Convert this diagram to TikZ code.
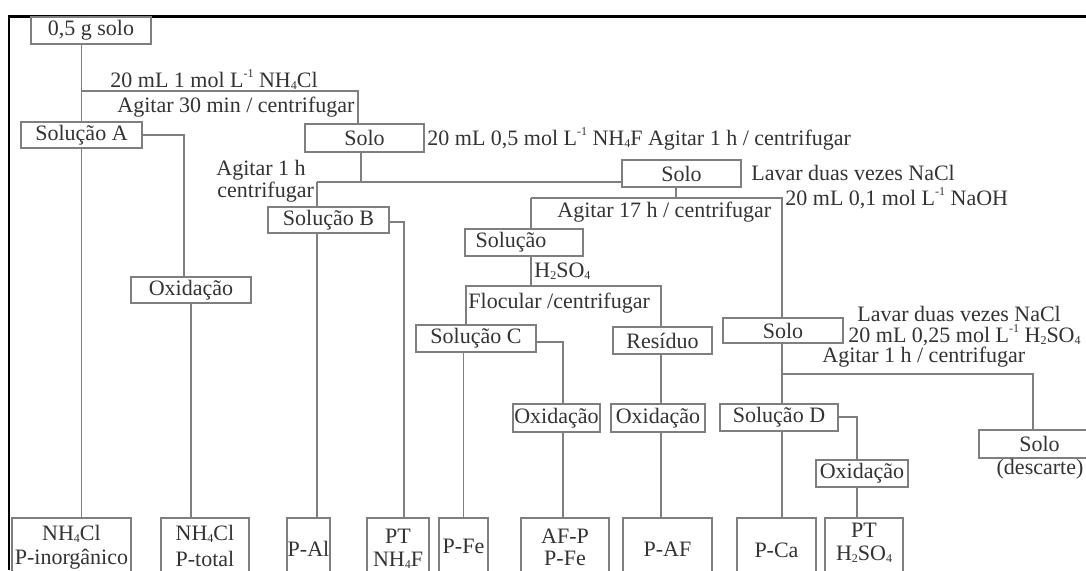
\documentclass[tikz,border=0pt]{standalone}
\usepackage{fontspec}
\setmainfont{Liberation Serif}
\definecolor{lc}{HTML}{7F7F7F}
\definecolor{tc}{HTML}{333333}
\newcommand{\mysub}[1]{\raisebox{-0.2ex}{\fontsize{6}{6}\selectfont #1}}
\newcommand{\mysup}[1]{\raisebox{0.9ex}{\fontsize{6}{6}\selectfont #1}}
\tikzset{
  every node/.style={font=\fontsize{11}{11.5}\selectfont, text=tc},
  bx/.style={draw=lc, line width=0.7pt, inner sep=0pt},
  sz/.style 2 args={minimum width=#1*0.5pt, minimum height=#2*0.5pt},
  ln/.style={draw=lc, line width=0.7pt},
  lbl/.style={inner sep=0pt, anchor=base west},
  mlbl/.style={inner sep=0pt, anchor=base, align=center}
}
\begin{document}
\begin{tikzpicture}[x=0.5pt,y=-0.5pt]
\useasboundingbox (0,0) rectangle (1086,570);
\clip (0,0) rectangle (1086,570);
\fill[white] (0,0) rectangle (1086,570);
% frame
\draw[black, line width=1.1pt] (9,570) -- (9,16.5) -- (1086,16.5);

% boxes
\node[bx, sz={120}{27}] (s0) at (91,30.5) {0,5 g solo};
\node[bx, sz={121}{26}] (sA) at (81.5,135) {Solução A};
\node[bx, sz={119}{28}] (s1) at (364.5,138) {Solo};
\node[bx, sz={119}{27}] (s2) at (681.5,173.5) {Solo};
\node[bx, sz={121}{26}] (sB) at (328.5,220) {Solução B};
\node[bx, sz={118}{27}] (sSol) at (524,242.5) {Solução\hspace*{13pt}};
\node[bx, sz={120}{26}] (oxA) at (191,290) {Oxidação};
\node[bx, sz={120}{27}] (sC) at (476,338.5) {Solução C};
\node[bx, sz={99}{27}] (res) at (662.5,340.5) {Resíduo};
\node[bx, sz={87}{28}] (ox1) at (556.5,418) {Oxidação};
\node[bx, sz={94}{28}] (ox2) at (658,418) {Oxidação};
\node[bx, sz={120}{25}] (s3) at (783,330.5) {Solo};
\node[bx, sz={118}{27}] (sD) at (779,417.5) {Solução D};
\node[bx, sz={92}{27}] (ox3) at (862,473.5) {Oxidação};
\node[bx, sz={121}{28}] (sdesc) at (1039.5,444) {Solo};
\node[inner sep=0pt, anchor=base] (desc) at (1040,474) {(descarte)};

% bottom boxes
\node[bx, sz={119}{60}] (b1) at (71.5,548) {};
\node[bx, sz={88}{60}] (b2) at (205,548) {};
\node[bx, sz={43}{60}] (b3) at (308.5,548) {};
\node[bx, sz={62}{60}] (b4) at (398,548) {};
\node[bx, sz={49}{60}] (b5) at (463.5,548) {};
\node[bx, sz={88}{60}] (b6) at (565,548) {};
\node[bx, sz={89}{60}] (b7) at (667.5,548) {};
\node[bx, sz={79}{60}] (b8) at (776.5,548) {};
\node[bx, sz={78}{60}] (b9) at (864,548) {};

\node[mlbl] (t1a) at (71.5,540) {NH\mysub{4}Cl};
\node[mlbl] (t1b) at (71.5,564) {P-inorgânico};
\node[mlbl] (t2a) at (205,540) {NH\mysub{4}Cl};
\node[mlbl] (t2b) at (205,566) {P-total};
\node[mlbl] (t3) at (308.5,556) {P-Al};
\node[mlbl] (t4a) at (398,543) {PT};
\node[mlbl] (t4b) at (398,566) {NH\mysub{4}F};
\node[mlbl] (t5) at (463.5,553) {P-Fe};
\node[mlbl] (t6a) at (565,543) {AF-P};
\node[mlbl] (t6b) at (565,565) {P-Fe};
\node[mlbl] (t7) at (667.5,556) {P-AF};
\node[mlbl] (t8) at (776.5,557) {P-Ca};
\node[mlbl] (t9a) at (864,537) {PT};
\node[mlbl] (t9b) at (864,560) {H\mysub{2}SO\mysub{4}};

% free labels
\node[lbl] (l1) at (110,87) {20 mL 1 mol L\mysup{-1} NH\mysub{4}Cl};
\node[lbl] (l2) at (117,112) {Agitar 30 min / centrifugar};
\node[lbl] (l3) at (216,175) {Agitar 1 h};
\node[lbl] (l4) at (217,197) {centrifugar};
\node[lbl] (l5) at (427,145) {20 mL 0,5 mol L\mysup{-1} NH\mysub{4}F Agitar 1 h / centrifugar};
\node[lbl] (l6) at (751,180) {Lavar duas vezes NaCl};
\node[lbl] (l7) at (785,205) {20 mL 0,1 mol L\mysup{-1} NaOH};
\node[lbl] (l8) at (557,217) {Agitar 17 h / centrifugar};
\node[lbl] (l9) at (534,277) {H\mysub{2}SO\mysub{4}};
\node[lbl] (l10) at (468,308) {Flocular /centrifugar};
\node[lbl] (l11) at (857,321) {Lavar duas vezes NaCl};
\node[lbl] (l12) at (848,342) {20 mL 0,25 mol L\mysup{-1} H\mysub{2}SO\mysub{4}};
\node[lbl] (l13) at (822,362) {Agitar 1 h / centrifugar};

% connectors
\coordinate (c1a) at (82,91);
\coordinate (c1b) at (358,91);
\draw[ln] (sA.north |- s0.south) -- (sA.north);
\draw[ln] (c1a) -- (c1b) -- (c1b |- s1.north);
\coordinate (c2) at (184,135);
\draw[ln] (sA.east) -- (c2) -- (c2 |- oxA.north);
\draw[ln] (oxA.south) -- (oxA.south |- b2.north);
\draw[ln] (sA.south) -- (sA.south |- b1.north);
\coordinate (c3a) at (361,182);
\coordinate (c3l) at (317,182);
\draw[ln] (c3a |- s1.south) -- (c3a);
\draw[ln] (c3l) -- (c3l -| s2.west);
\draw[ln] (c3l) -- (c3l |- sB.north);
\coordinate (c4) at (404,222);
\draw[ln] (c4 -| sB.east) -- (c4) -- (c4 |- b4.north);
\draw[ln] (c3l |- sB.south) -- (c3l |- b3.north);
\coordinate (c5) at (676,198);
\coordinate (c5l) at (531,198);
\coordinate (c5r) at (782,198);
\draw[ln] (c5 |- s2.south) -- (c5);
\draw[ln] (c5l) -- (c5r) -- (c5r |- s3.north);
\draw[ln] (c5l) -- (c5l |- sSol.north);
\coordinate (c6) at (531,286);
\draw[ln] (c6 |- sSol.south) -- (c6);
\coordinate (f1) at (466,286);
\coordinate (f2) at (661,286);
\draw[ln] (f1 |- sC.north) -- (f1) -- (f2) -- (f2 |- res.north);
\coordinate (c7) at (563,342);
\draw[ln] (c7 -| sC.east) -- (c7) -- (c7 |- ox1.north);
\draw[ln] (c7 |- ox1.south) -- (c7 |- b6.north);
\draw[ln] (b5.north |- sC.south) -- (b5.north);
\draw[ln] (f2 |- res.south) -- (f2 |- ox2.north);
\draw[ln] (f2 |- ox2.south) -- (f2 |- b7.north);
\draw[ln] (c5r |- s3.south) -- (c5r |- sD.north);
\coordinate (c9) at (1033,374);
\draw[ln] (c5r |- c9) -- (c9) -- (c9 |- sdesc.north);
\coordinate (c10) at (857,417);
\draw[ln] (c10 -| sD.east) -- (c10) -- (c10 |- ox3.north);
\draw[ln] (c10 |- ox3.south) -- (c10 |- b9.north);
\draw[ln] (c5r |- sD.south) -- (c5r |- b8.north);
\end{tikzpicture}
\end{document}
